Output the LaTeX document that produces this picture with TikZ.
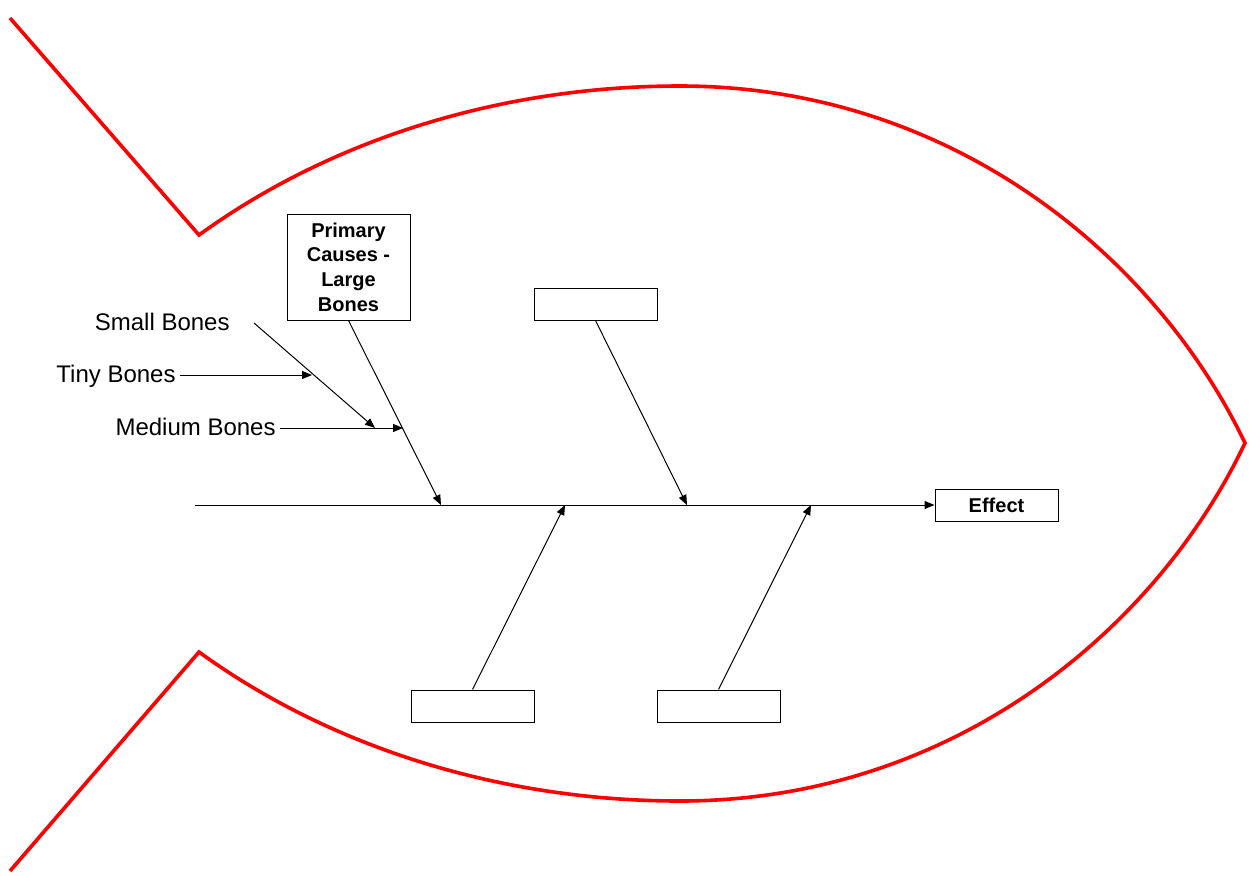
\documentclass[tikz,border=0pt]{standalone}
\usepackage{fontspec}
\setmainfont{Liberation Sans}
\usetikzlibrary{arrows.meta}

\tikzset{
  fishline/.style={red, line width=1.8pt, line join=miter},
  bonebox/.style={rectangle, draw, line width=0.5pt, minimum width=61.5pt, minimum height=16pt, inner sep=1pt, font=\bfseries\fontsize{10}{12.3}\selectfont, align=center},
  bone/.style={line width=0.5pt, -{Triangle[length=5pt,width=4pt]}},
  bonelabel/.style={font=\fontsize{12}{14}\selectfont, inner sep=2pt, anchor=mid east, yshift=-1.2pt}
}

\begin{document}
\begin{tikzpicture}[x=0.5pt, y=-0.5pt]
  \useasboundingbox (0,0) rectangle (1249,875);
  \draw[fishline] (10,18) -- (199,235) .. controls (330,140) and (500,86) .. (680,86)
    .. controls (950,86) and (1155,255) .. (1245,443)
    .. controls (1155,632) and (950,801) .. (680,801)
    .. controls (500,801) and (330,747) .. (199,652) -- (10,871);

  \node[bonebox, minimum height=53pt] (prim) at (348.5,267) {Primary\\Causes -\\Large\\Bones};
  \node[bonebox] (topbox) at (595.5,304) {};
  \node[bonebox] (lowleft) at (472.5,706) {};
  \node[bonebox] (lowright) at (718.5,706) {};
  \node[bonebox] (eff) at (996.5,505) {Effect};

  \coordinate (tail) at (195,505);
  \coordinate (j1) at (441,505);
  \coordinate (j2) at (565,505);
  \coordinate (j3) at (687,505);
  \coordinate (j4) at (811,505);

  \draw[bone] (tail) -- (eff.west);
  \draw[bone] (prim.south) -- (j1);
  \draw[bone] (topbox.south) -- (j3);
  \draw[bone] (lowleft.north) -- (j2);
  \draw[bone] (lowright.north) -- (j4);

  \node[bonelabel] (small) at (234,323) {Small Bones};
  \node[bonelabel] (tiny) at (180,375) {Tiny Bones};
  \node[bonelabel] (medium) at (280,428) {Medium Bones};

  \coordinate (t1) at (312,375);
  \coordinate (m1) at (375,428);
  \coordinate (m2) at (403,428);

  \draw[bone] ([xshift=10pt,yshift=1.2pt]small.mid east) -- (m1);
  \draw[bone] ([yshift=1.2pt]tiny.mid east) -- (t1);
  \draw[bone] ([yshift=1.2pt]medium.mid east) -- (m2);
\end{tikzpicture}
\end{document}
